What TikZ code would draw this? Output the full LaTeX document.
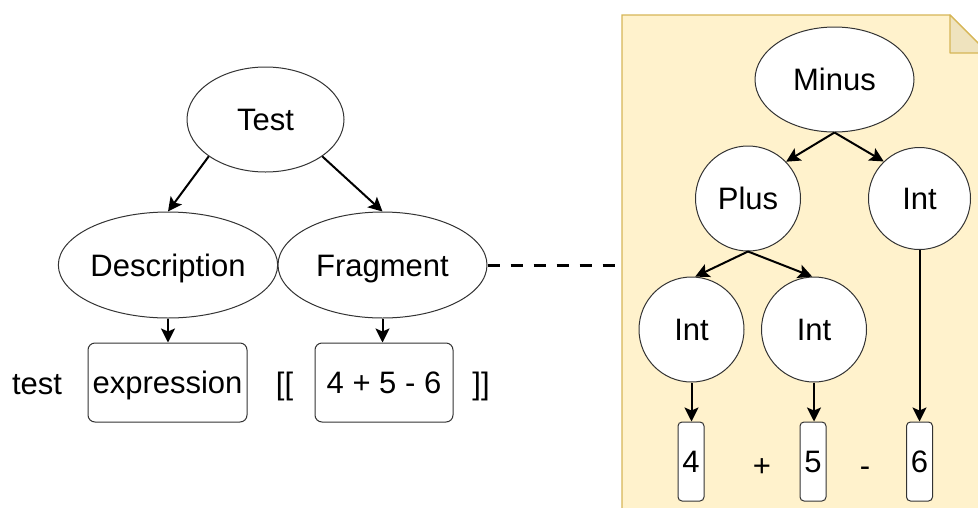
\documentclass[tikz,border=0pt]{standalone}
\usepackage{fontspec}
\setmainfont{Liberation Sans}
\usetikzlibrary{arrows.meta,shapes.geometric}

\definecolor{notefill}{HTML}{FFF2CC}
\definecolor{notedraw}{HTML}{D6B656}
\definecolor{foldfill}{HTML}{EFE3BE}
\definecolor{edge}{HTML}{333333}

\tikzset{
  txt/.style={font=\fontsize{31}{37}\selectfont, text height=22.2pt, text depth=0pt},
  lbl/.style={txt, inner sep=0pt},
  oval/.style={txt, ellipse, draw=edge, fill=white, line width=1pt, inner sep=0pt,
    minimum width=157pt, minimum height=105pt},
  circ/.style={txt, circle, draw=edge, fill=white, line width=1pt, inner sep=0pt,
    minimum size=105pt},
  tok/.style={txt, rectangle, rounded corners=7pt, draw=edge, fill=white, line width=1pt,
    inner sep=0pt, minimum height=79pt},
  arr/.style={-{Stealth[length=14pt,width=14pt,inset=3pt]}, line width=2pt, black},
}

\begin{document}
\begin{tikzpicture}[x=1pt,y=-1pt]
\useasboundingbox (0,0) rectangle (978,507);

% folded note holding the parse tree
\begin{scope}
  \clip (0,0) rectangle (978,507);
  \draw[notedraw, fill=notefill, line width=1.2pt]
    (622,15) -- (950,15) -- (988,53) -- (988,530) -- (622,530) -- cycle;
  \draw[notedraw, fill=foldfill, line width=1.2pt, line join=round]
    (950,15) -- (950,53) -- (988,53) -- cycle;
\end{scope}
\coordinate (noteW) at (622,265);

% grammar side
\node[oval] (test) at (265.5,119.5) {Test};
\node[oval, minimum width=212pt, minimum height=106pt] (desc) at (168,265) {Description};
\node[oval, minimum width=209pt, minimum height=106pt] (frag) at (382.5,265) {Fragment};

\node[lbl] (kw) at (37,383) {test};
\node[tok, minimum width=159pt] (expr) at (167.5,382.5) {expression};
\node[lbl] (open) at (284.5,383) {[[};
\node[tok, minimum width=138pt] (code) at (384,382.5) {4 + 5 - 6};
\node[lbl] (close) at (481,383) {]]};

\draw[arr] (test.213) -- (desc.north);
\draw[arr] (test.327) -- (frag.north);
\draw[arr] (desc.south) -- (desc.south |- expr.north);
\draw[arr] (frag.south) -- (frag.south |- code.north);
\draw[line width=3pt, dash pattern=on 12pt off 11pt] (frag.east) -- (noteW);

% parse tree of 4 + 5 - 6
\node[oval, minimum width=159pt] (minus) at (834.5,79.5) {Minus};
\node[circ] (plus) at (748,198.5) {Plus};
\node[circ, minimum size=102pt] (intr) at (919.5,198.5) {Int};
\node[circ] (intl) at (691.5,329.5) {Int};
\node[circ] (intm) at (814,329.5) {Int};

\node[tok, minimum width=26pt, rounded corners=4pt] (n4) at (691,461.5) {4};
\node[tok, minimum width=26pt, rounded corners=4pt] (n5) at (813,461.5) {5};
\node[tok, minimum width=26pt, rounded corners=4pt] (n6) at (919.5,461.5) {6};
\node[lbl] (opplus) at (762,465) {+};
\node[lbl] (opminus) at (865,465) {-};

\draw[arr] (minus.south) -- (plus.44);
\draw[arr] (minus.south) -- (intr.134);
\draw[arr] (plus.south) -- (intl.86);
\draw[arr] (plus.south) -- (intm.92);
\draw[arr] (intl.south) -- (intl.south |- n4.north);
\draw[arr] (intm.south) -- (intm.south |- n5.north);
\draw[arr] (intr.south) -- (intr.south |- n6.north);
\end{tikzpicture}
\end{document}
